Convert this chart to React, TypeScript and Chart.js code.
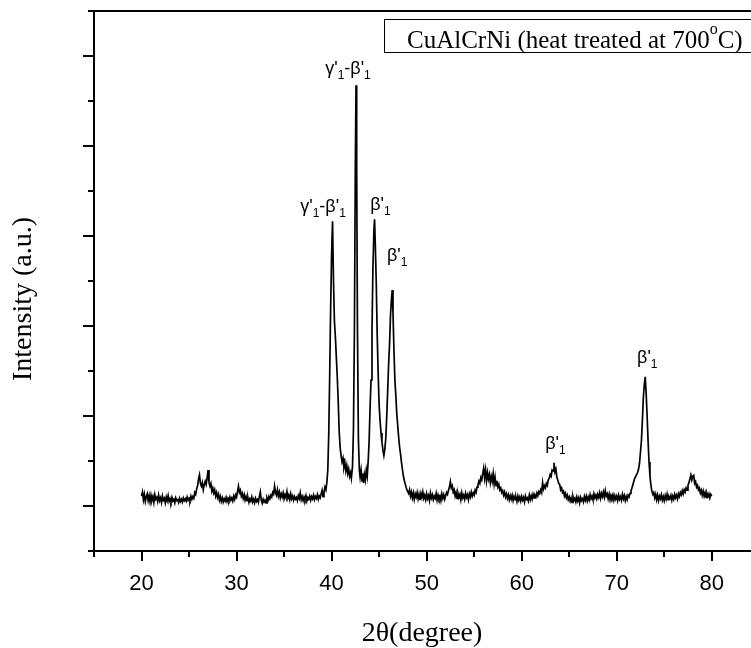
import React, { useEffect, useRef } from "react";
import { Chart, registerables } from "chart.js";

Chart.register(...registerables);

// Uniform-step scan segments: 2θ start (degree), step (degree), intensity (a.u.)
const lowAngleStart = 20.0;
const highAngleStart = 48.0;
const scanStep = 0.1;

const lowAngleCounts: number[] = [
  1.22,1.31,1.14,1.26,1.10,1.20,1.27,1.12,1.23,1.09,
  1.24,1.13,1.21,1.08,1.25,1.15,1.19,1.10,1.24,1.12,
  1.18,1.08,1.22,1.13,1.17,1.07,1.20,1.12,1.23,1.10,
  1.16,1.09,1.19,1.11,1.15,1.07,1.18,1.12,1.14,1.08,
  1.17,1.10,1.15,1.09,1.18,1.12,1.16,1.11,1.20,1.13,
  1.17,1.12,1.22,1.15,1.21,1.17,1.30,1.26,1.38,1.45,
  1.60,1.69,1.50,1.44,1.52,1.36,1.47,1.55,1.48,1.62,
  1.80,1.52,1.44,1.50,1.33,1.40,1.29,1.36,1.22,1.30,
  1.19,1.26,1.13,1.21,1.10,1.18,1.09,1.16,1.11,1.19,
  1.10,1.17,1.12,1.20,1.13,1.18,1.11,1.22,1.15,1.25,
  1.20,1.32,1.44,1.30,1.35,1.22,1.28,1.17,1.25,1.13,
  1.21,1.12,1.18,1.08,1.16,1.11,1.20,1.09,1.15,1.07,
  1.17,1.10,1.14,1.08,1.21,1.31,1.13,1.06,1.15,1.09,
  1.13,1.07,1.18,1.12,1.21,1.16,1.24,1.20,1.30,1.26,
  1.44,1.30,1.24,1.36,1.22,1.31,1.18,1.27,1.20,1.29,
  1.16,1.25,1.19,1.32,1.17,1.24,1.14,1.27,1.16,1.22,
  1.13,1.21,1.15,1.19,1.12,1.23,1.17,1.29,1.14,1.21,
  1.12,1.20,1.14,1.23,1.11,1.19,1.15,1.22,1.13,1.21,
  1.16,1.24,1.14,1.21,1.17,1.25,1.15,1.22,1.18,1.27,
  1.35,1.21,1.30,1.42,
];

// 2θ (degree), intensity (a.u.) around the strong reflections
const mainPeakScan: [number, number][] = [
  [39.4,1.36],[39.5,1.52],[39.6,1.80],[39.7,2.60],[39.8,3.90],[39.9,5.40],[40.0,6.60],[40.1,7.33],[40.2,6.00],[40.3,5.10],
  [40.4,4.75],[40.5,4.30],[40.6,3.85],[40.7,3.30],[40.8,2.65],[40.9,2.30],[41.0,2.12],[41.1,1.98],[41.2,2.06],[41.3,1.86],
  [41.4,1.96],[41.5,1.78],[41.6,1.90],[41.7,1.72],[41.8,1.82],[41.9,1.66],[42.0,1.74],[42.08,1.62],[42.2,1.88],[42.3,2.70],
  [42.4,4.90],[42.5,8.60],[42.57,10.35],[42.64,8.50],[42.72,5.00],[42.82,2.50],[42.92,1.80],[43.0,1.64],[43.1,1.80],[43.2,1.56],
  [43.3,1.72],[43.36,1.51],[43.45,1.70],[43.55,1.58],[43.65,1.80],[43.75,1.66],[43.85,2.00],[43.95,2.45],[44.05,3.20],[44.15,3.80],
  [44.25,4.90],[44.35,6.30],[44.45,7.10],[44.52,7.37],[44.6,6.80],[44.7,5.95],[44.8,4.80],[44.9,3.95],[45.0,3.25],[45.1,2.90],
  [45.2,2.62],[45.3,2.42],[45.4,2.24],[45.5,2.12],[45.6,2.26],[45.7,2.50],[45.8,2.98],[45.9,3.55],[46.0,4.15],[46.1,4.60],
  [46.2,5.25],[46.3,5.60],[46.38,5.80],[46.46,5.30],[46.56,4.47],[46.66,3.80],[46.76,3.45],[46.86,3.05],[46.96,2.78],[47.06,2.52],
  [47.16,2.30],[47.26,2.14],[47.36,1.96],[47.46,1.80],[47.56,1.66],[47.66,1.56],[47.76,1.48],[47.86,1.40],[47.96,1.34],
];

const highAngleCounts: number[] = [
  1.34,1.28,1.36,1.22,1.31,1.18,1.29,1.15,1.27,1.20,
  1.30,1.16,1.26,1.13,1.28,1.19,1.31,1.17,1.24,1.14,
  1.27,1.16,1.23,1.12,1.29,1.18,1.25,1.14,1.22,1.17,
  1.28,1.13,1.24,1.16,1.22,1.12,1.27,1.17,1.25,1.15,
  1.23,1.30,1.26,1.35,1.42,1.54,1.40,1.45,1.31,1.36,
  1.22,1.30,1.17,1.28,1.19,1.26,1.14,1.29,1.18,1.24,
  1.15,1.28,1.19,1.25,1.14,1.27,1.20,1.31,1.22,1.29,
  1.24,1.35,1.30,1.42,1.47,1.55,1.50,1.63,1.58,1.72,
  1.84,1.62,1.80,1.56,1.74,1.60,1.70,1.52,1.66,1.55,
  1.72,1.49,1.64,1.45,1.56,1.42,1.48,1.36,1.40,1.30,
  1.34,1.24,1.31,1.20,1.27,1.17,1.25,1.14,1.23,1.15,
  1.24,1.12,1.21,1.14,1.19,1.10,1.22,1.13,1.20,1.11,
  1.21,1.13,1.19,1.09,1.22,1.15,1.18,1.11,1.24,1.14,
  1.23,1.15,1.26,1.18,1.24,1.20,1.29,1.23,1.32,1.28,
  1.36,1.30,1.52,1.38,1.45,1.40,1.50,1.46,1.58,1.62,
  1.70,1.66,1.80,1.78,1.96,1.76,1.82,1.64,1.58,1.50,
  1.48,1.36,1.40,1.30,1.33,1.22,1.28,1.18,1.24,1.14,
  1.20,1.11,1.18,1.08,1.21,1.12,1.17,1.09,1.20,1.11,
  1.18,1.07,1.19,1.12,1.16,1.09,1.21,1.13,1.22,1.11,
  1.20,1.13,1.25,1.16,1.22,1.14,1.27,1.18,1.24,1.16,
  1.26,1.19,1.29,1.17,1.28,1.21,1.31,1.20,1.34,1.22,
  1.27,1.16,1.26,1.14,1.24,1.18,1.25,1.13,1.23,1.15,
  1.22,1.12,1.24,1.15,1.21,1.13,1.26,1.16,1.23,1.12,
  1.21,1.14,1.24,1.20,1.28,1.33,1.40,1.47,1.55,1.62,
  1.66,1.70,1.75,1.82,1.95,2.20,2.45,2.90,3.40,3.70,
  3.87,3.50,3.00,2.45,1.98,1.66,1.46,1.33,1.26,1.30,
  1.18,1.26,1.14,1.24,1.12,1.22,1.16,1.25,1.13,1.21,
  1.12,1.23,1.15,1.26,1.14,1.21,1.17,1.24,1.13,1.22,
  1.15,1.26,1.18,1.24,1.16,1.27,1.21,1.30,1.25,1.34,
  1.27,1.36,1.31,1.40,1.35,1.46,1.52,1.60,1.69,1.58,
  1.66,1.68,1.50,1.54,1.42,1.46,1.36,1.40,1.29,1.35,
  1.24,1.33,1.22,1.30,1.19,1.28,1.21,1.27,1.18,1.26,
  1.22,
];

const xMajorTicks = [20, 30, 40, 50, 60, 70, 80];
const xMinorTicks = [15, 25, 35, 45, 55, 65, 75];
const yMajorTicks = [1, 3, 5, 7, 9, 11];
const yMinorTicks = [0, 2, 4, 6, 8, 10, 12];
const xRange = [15, 84.13];
const yRange = [0, 12];

const xTitle = "2θ(degree)";
const yTitle = "Intensity (a.u.)";
const legendMain = "CuAlCrNi (heat treated at 700";
const legendSup = "o";
const legendTail = "C)";

type Part = [string, number]; // text, 0 = normal, 1 = subscript
const gammaBeta: Part[] = [["γ'", 0], ["1", 1], ["-β'", 0], ["1", 1]];
const beta: Part[] = [["β'", 0], ["1", 1]];
// anchor: left edge 2θ, baseline intensity
const peakLabels: { x: number; y: number; parts: Part[] }[] = [
  { x: 39.33, y: 10.6, parts: gammaBeta },
  { x: 36.7, y: 7.53, parts: gammaBeta },
  { x: 44.06, y: 7.58, parts: beta },
  { x: 45.82, y: 6.44, parts: beta },
  { x: 62.48, y: 2.26, parts: beta },
  { x: 72.14, y: 4.18, parts: beta },
];

const SERIF = '"Liberation Serif", "Times New Roman", serif';
const SANS = '"Liberation Sans", Arial, sans-serif';

const decorPlugin = {
  id: "decor",
  afterDraw(chart: any) {
    const { ctx, chartArea: a, scales } = chart;
    const xs = scales.x;
    const ys = scales.y;
    ctx.save();
    ctx.strokeStyle = "#000";
    ctx.fillStyle = "#000";
    ctx.lineWidth = 2;
    ctx.lineCap = "butt";
    ctx.beginPath();
    ctx.moveTo(a.left, a.top);
    ctx.lineTo(a.left, a.bottom + 1);
    ctx.moveTo(a.left - 1, a.bottom);
    ctx.lineTo(a.right + 2, a.bottom);
    ctx.moveTo(a.left - 1, a.top);
    ctx.lineTo(a.right + 2, a.top);
    ctx.stroke();
    ctx.beginPath();
    xMajorTicks.forEach((v) => {
      const px = Math.round(xs.getPixelForValue(v));
      ctx.moveTo(px, a.bottom);
      ctx.lineTo(px, a.bottom + 10);
    });
    xMinorTicks.forEach((v) => {
      const px = Math.round(xs.getPixelForValue(v));
      ctx.moveTo(px, a.bottom);
      ctx.lineTo(px, a.bottom + 6);
    });
    yMajorTicks.forEach((v) => {
      const py = Math.round(ys.getPixelForValue(v));
      ctx.moveTo(a.left, py);
      ctx.lineTo(a.left - 11, py);
    });
    yMinorTicks.forEach((v) => {
      const py = Math.round(ys.getPixelForValue(v));
      ctx.moveTo(a.left, py);
      ctx.lineTo(a.left - 6, py);
    });
    ctx.stroke();

    ctx.font = `28px ${SERIF}`;
    ctx.textAlign = "center";
    ctx.textBaseline = "alphabetic";
    ctx.fillText(xTitle, 422, 641);
    ctx.save();
    ctx.translate(31, 299);
    ctx.rotate(-Math.PI / 2);
    ctx.fillText(yTitle, 0, 0);
    ctx.restore();

    ctx.lineWidth = 1;
    ctx.strokeRect(384.5, 19.5, 420, 33);
    ctx.textAlign = "left";
    ctx.font = `25px ${SERIF}`;
    let lx = 407;
    ctx.fillText(legendMain, lx, 48);
    lx += ctx.measureText(legendMain).width;
    ctx.font = `16px ${SERIF}`;
    ctx.fillText(legendSup, lx, 34);
    lx += ctx.measureText(legendSup).width;
    ctx.font = `25px ${SERIF}`;
    ctx.fillText(legendTail, lx, 48);

    peakLabels.forEach((lab) => {
      let px = xs.getPixelForValue(lab.x);
      const py = ys.getPixelForValue(lab.y);
      lab.parts.forEach(([t, sub]) => {
        ctx.font = sub ? `12px ${SANS}` : `18px ${SANS}`;
        ctx.fillText(t, px, sub ? py + 5 : py);
        px += ctx.measureText(t).width;
      });
    });
    ctx.restore();
  },
};

export default function App() {
  const ref = useRef<HTMLCanvasElement | null>(null);
  useEffect(() => {
    if (!ref.current) return;
    const low = lowAngleCounts.map((y, i) => ({ x: +(lowAngleStart + i * scanStep).toFixed(2), y }));
    const mid = mainPeakScan.map(([x, y]) => ({ x, y }));
    const high = highAngleCounts.map((y, i) => ({ x: +(highAngleStart + i * scanStep).toFixed(2), y }));
    const points = [...low, ...mid, ...high];
    const chart = new Chart(ref.current, {
      type: "scatter",
      data: {
        datasets: [
          {
            data: points,
            showLine: true,
            borderColor: "#000",
            borderWidth: 1.7,
            pointRadius: 0,
            tension: 0,
          },
        ],
      },
      plugins: [decorPlugin],
      options: {
        animation: false,
        responsive: false,
        events: [],
        layout: { padding: { top: 11, left: 0, right: 0, bottom: 0 } },
        plugins: { legend: { display: false }, tooltip: { enabled: false }, title: { display: false } },
        scales: {
          x: {
            type: "linear",
            min: xRange[0],
            max: xRange[1],
            grid: { display: false, drawTicks: false },
            border: { display: false },
            ticks: {
              autoSkip: false,
              maxRotation: 0,
              color: "#000",
              padding: 20,
              font: { family: SANS, size: 22 },
            },
            afterBuildTicks: (s: any) => {
              s.ticks = xMajorTicks.map((v) => ({ value: v }));
            },
            afterFit: (s: any) => {
              s.height = 97;
            },
          },
          y: {
            type: "linear",
            min: yRange[0],
            max: yRange[1],
            grid: { display: false, drawTicks: false },
            border: { display: false },
            ticks: { display: false },
            afterFit: (s: any) => {
              s.width = 94;
            },
          },
        },
      },
    });
    return () => chart.destroy();
  }, []);
  return (
    <div style={{ position: "absolute", left: 0, top: 0, width: 751, height: 648, background: "#fff" }}>
      <canvas ref={ref} width={751} height={648} style={{ display: "block" }} />
    </div>
  );
}
